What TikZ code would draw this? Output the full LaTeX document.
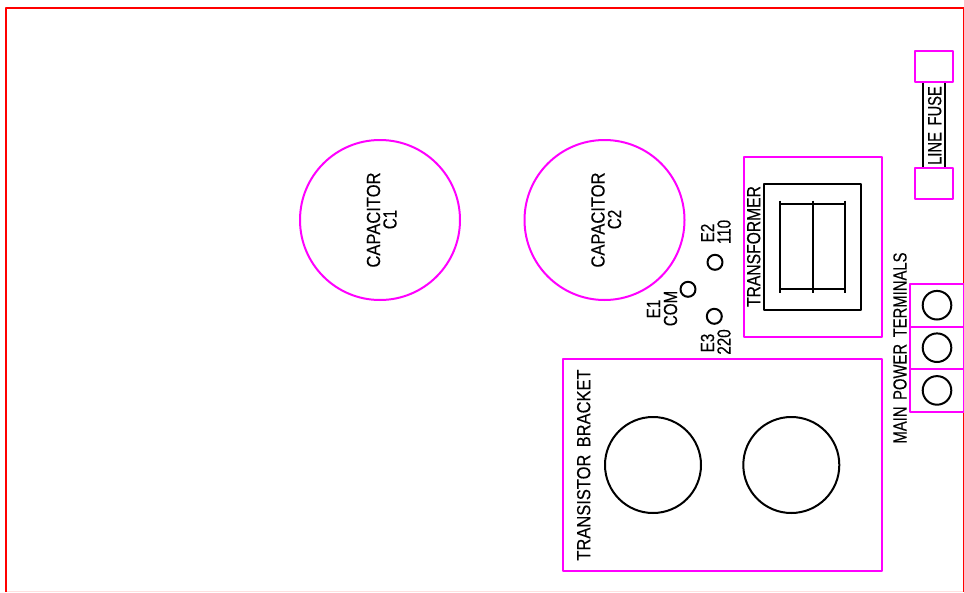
\documentclass[tikz,border=0pt]{standalone}
\usepackage{fontspec}
\setmainfont{Liberation Sans}
\newfontfamily\cadfont[FakeStretch=0.8,FakeBold=0.25,WordSpace=1.6]{Liberation Sans}
\definecolor{partcolor}{RGB}{255,0,255}
\newcommand\stretchlabel[2]{\scalebox{#1}[1]{#2}}
\tikzset{
	part/.style={draw=partcolor,line width=2pt},
	hole/.style={draw=black,line width=2pt},
	label/.style={inner sep=0pt,rotate=90,font=\cadfont\fontsize{19}{19}\selectfont}
}
\begin{document}
\begin{tikzpicture}[x=1pt,y=-1pt,line join=round]
		\useasboundingbox (0,0) rectangle (964,592);
		\draw[red!12,line width=1pt] (6,591)--(963.5,591);
		\draw[red,line width=2pt] (6,592)--(6,8)--(963.5,8)--(963.5,592);
		\foreach \a/\l in {380/1,604.5/2}{
			\draw[part] (\a,220) circle (80);
			\node[label] (cap\l) at (\a-6.5,220) {\stretchlabel{1.09}{CAPACITOR}};
			\node[label] (name\l) at (\a+10,219.5) {C\l};
		}
		\draw[part] (743.5,156.5) rectangle (881.5,337);
		\draw[hole] (764,183.5) rectangle (861,310);
		\foreach \a in {780.3,812.7,845}
			\draw[hole] (\a,200.5)--(\a,292.5);
		\draw[hole] (780.3,204.3)--(845,204.3) (780.3,289)--(845,289);
		\node[label] (transformer) at (753.7,246.5) {\stretchlabel{1.03}{TRANSFORMER}};
		\draw[hole] (923,82)--(923,168) (944.7,82)--(944.7,168);
		\draw[part] (914.5,51) rectangle (953,82);
		\draw[part] (914.5,168) rectangle (953,199);
		\node[label] (fuse) at (934.7,125.5) {\stretchlabel{.97}{LINE FUSE}};
		\foreach \a in {284,326.5,369.2}{
			\draw[part] (910.3,\a) rectangle (964,\a+42.5);
			\draw[hole] (937,\a+21.2) circle (14.3);
		}
		\node[label] (mains) at (900,348) {\stretchlabel{.975}{MAIN POWER TERMINALS}};
		\draw[hole] (715,262.3) circle (7.5);
		\draw[hole] (688,289.3) circle (7.5);
		\draw[hole] (714.3,316.3) circle (7.5);
		\node[label] (e2) at (707.5,233) {E2};
		\node[label] (v110) at (724,232) {110};
		\node[label] (e1) at (653.5,309) {E1};
		\node[label] (com) at (670.5,308.5) {COM};
		\node[label] (e3) at (707.5,343) {E3};
		\node[label] (v220) at (724,342) {220};
		\draw[part] (562.5,359) rectangle (881.7,571);
		\draw[hole] (653,465) circle (48);
		\draw[hole] (791.3,465) circle (48);
		\node[label] (bracket) at (583.7,465) {\stretchlabel{1.085}{TRANSISTOR BRACKET}};
	\end{tikzpicture}
\end{document}
